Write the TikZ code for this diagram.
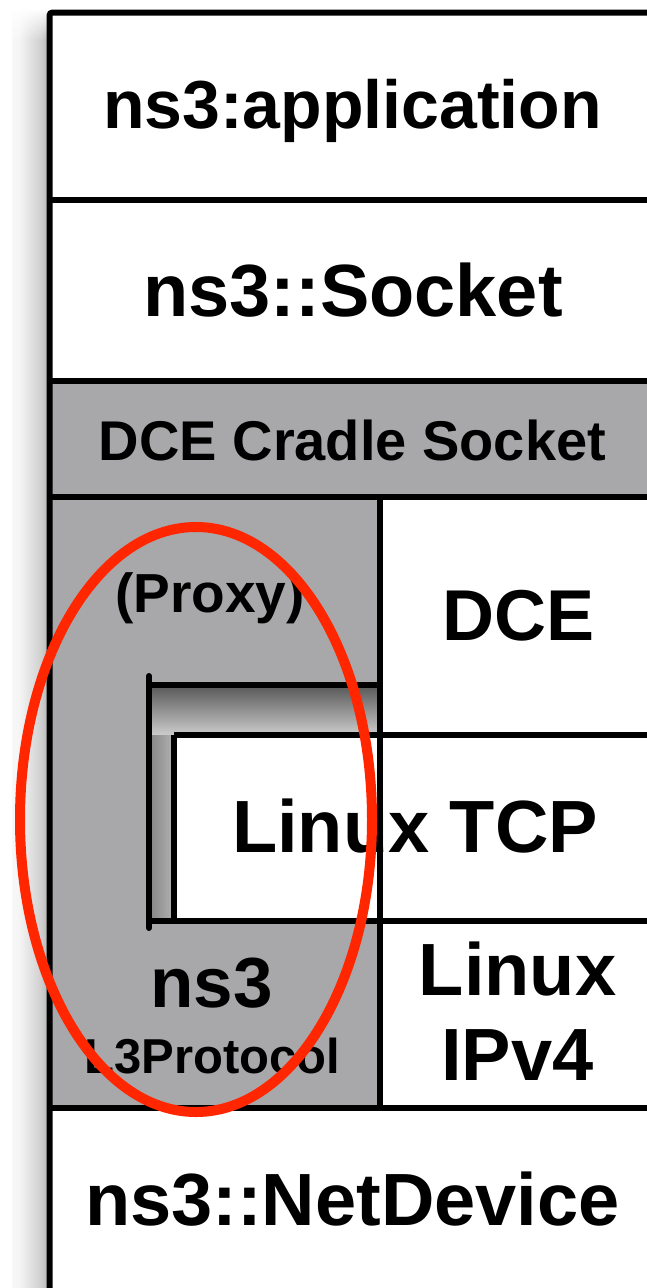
\documentclass[tikz,border=0pt]{standalone}
\usepackage{fontspec}
\setmainfont{Liberation Sans}
\usetikzlibrary{fadings}
\definecolor{layergrey}{RGB}{168,168,170}
\definecolor{markred}{RGB}{255,38,0}
\tikzfading[name=fadeup, top color=transparent!100, bottom color=transparent!0]
\pgfdeclarehorizontalshading{leftshadow}{100bp}{color(0bp)=(white); color(35bp)=(black!4); color(65bp)=(black!18); color(88bp)=(black!38); color(100bp)=(black!52)}

\begin{document}
\begin{tikzpicture}[x=1pt,y=-1pt,
  rule/.style={line width=6pt, black},
  lblbase/.style={inner sep=0pt, anchor=base},
  biglbl/.style={lblbase, font=\bfseries\fontsize{74}{80}\selectfont},
  midlbl/.style={lblbase, font=\bfseries\fontsize{56}{60}\selectfont},
  smalllbl/.style={lblbase, font=\bfseries\fontsize{49}{54}\selectfont}]

\useasboundingbox (0,0) rectangle (646,1288);

% soft shadow on the left of the stack
\shade[shading=leftshadow] (12,40) rectangle (47,1288);
\shade[shading=leftshadow, path fading=fadeup] (12,8) rectangle (47,40);

% backgrounds of the layers
\fill[white] (49.5,12.5) rectangle (660,1300);
\fill[layergrey] (49.5,381) rectangle (660,497);
\fill[layergrey] (49.5,497) rectangle (380,1108);

% recess around the Linux TCP block
\shade[top color=black!66, bottom color=black!20] (149,685) rectangle (380,735);
\shade[left color=black!48, right color=black!30] (149,735) rectangle (174,921);

% white blocks on the right
\fill[white] (380,497) rectangle (660,735);
\fill[white] (174,735) rectangle (660,921);
\fill[white] (380,921) rectangle (660,1108);

% separating rules
\draw[rule, rounded corners=3pt] (660,12.5) -- (49.5,12.5) -- (49.5,1300);
\draw[rule] (49.5,200) -- (660,200);
\draw[rule] (49.5,381) -- (660,381);
\draw[rule] (49.5,497) -- (660,497);
\draw[rule] (380,497) -- (380,1108);
\draw[rule] (149,685) -- (380,685);
\draw[rule] (174,735) -- (660,735);
\draw[rule] (174,735) -- (174,921);
\draw[rule] (149,921) -- (660,921);
\draw[rule, line cap=round] (149,676) -- (149,928);
\draw[rule] (49.5,1108) -- (660,1108);

% layer labels
\node[biglbl, font=\bfseries\fontsize{68}{72}\selectfont] (app) at (352.5,128) {ns3:application};
\node[biglbl] (sock) at (353,316) {ns3::Socket};
\node[midlbl] (cradle) at (352.5,460) {DCE Cradle Socket};
\node[midlbl, font=\bfseries\fontsize{55}{60}\selectfont] (proxy) at (210,612) {(Proxy)};
\node[biglbl, font=\bfseries\fontsize{72}{78}\selectfont] (dce) at (519,640) {DCE};
\node[biglbl] (tcp) at (415,852) {Linux TCP};
\node[biglbl, font=\bfseries\fontsize{71}{76}\selectfont] (ns3) at (211.5,1007) {ns3};
\node[smalllbl] (l3) at (212.5,1073) {L3Protocol};
\node[biglbl] (linux) at (517.5,995) {Linux};
\node[biglbl] (ipv4) at (517.5,1080) {IPv4};
\node[biglbl] (netdev) at (352.5,1225) {ns3::NetDevice};

% highlight of the proxy path
\draw[markred, line width=10pt] (196,819.5) ellipse [x radius=176, y radius=292.5];
\end{tikzpicture}
\end{document}
